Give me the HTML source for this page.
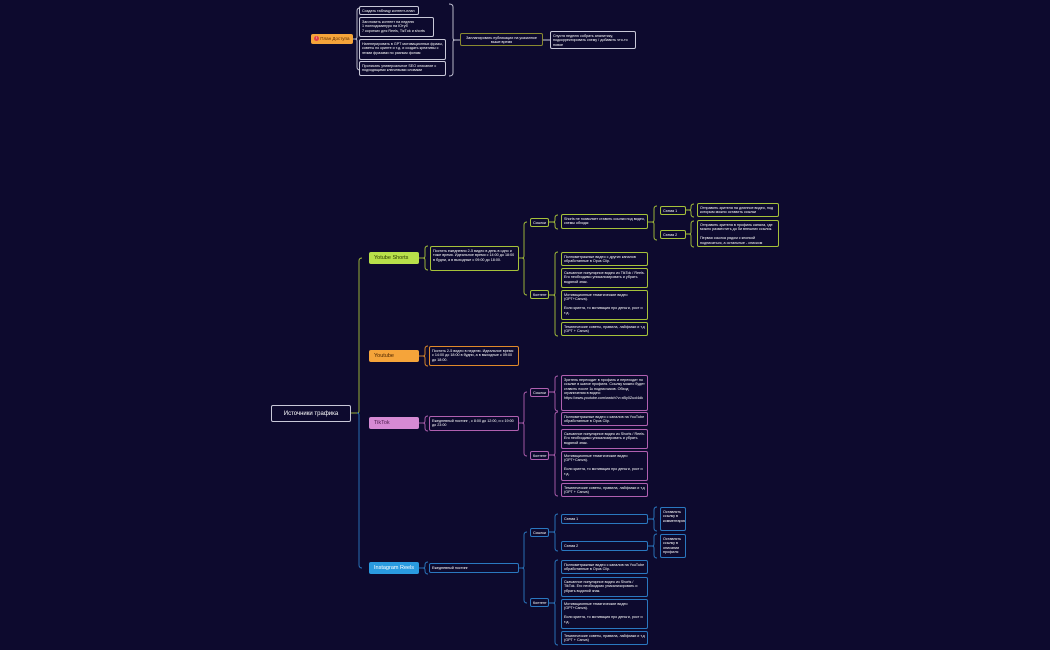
<!DOCTYPE html>
<html><head><meta charset="utf-8">
<style>
html,body{margin:0;padding:0;background:#0d0a2e;width:1050px;height:650px;overflow:hidden}
body{position:relative;font-family:"Liberation Sans","Noto Sans CJK SC",sans-serif}
.b{position:absolute;box-sizing:border-box;border:1px solid #ccc;border-radius:2px;background:#0d0a2e;color:#fff;font-size:3.7px;line-height:4.6px;padding:1.5px 2px;overflow:hidden}
.n{position:absolute;box-sizing:border-box;border-radius:2px;font-size:5.5px;line-height:12px;padding-left:5px}
.g{border-color:#a6c23a}.o{border-color:#e08a2a}.p{border-color:#b060b0}.u{border-color:#2a78c0}.w{border-color:#c8c8d8}
svg{position:absolute;left:0;top:0}
</style></head><body>
<svg width="1050" height="650" fill="none" stroke-width="0.9">
<g stroke="#a6c23a">
<path d="M351 413 L357 413"/>
<path d="M362 258 Q359 258 359 261 L359 411 Q359 413 357 413"/>
<path d="M419 258 L423 258"/>
<path d="M428 246 Q425 246 425 249 L425 256 Q425 258 423 258 Q425 258 425 260 L425 267 Q425 270 428 270"/>
<path d="M519 258 L522 258"/>
<path d="M527 222 Q524 222 524 225 L524 256 Q524 258 522 258 Q524 258 524 260 L524 292 Q524 295 527 295"/>
<path d="M558 215 Q555 215 555 218 L555 220 Q555 222 553 222 Q555 222 555 224 L555 226 Q555 229 558 229"/>
<path d="M549 222 L553 222 M549 295 L553 295"/>
<path d="M558 252 Q555 252 555 255 L555 293 Q555 295 553 295 Q555 295 555 297 L555 333 Q555 336 558 336"/>
<path d="M648 222 L652 222"/>
<path d="M657 206 Q654 206 654 209 L654 220 Q654 222 652 222 Q654 222 654 224 L654 237 Q654 240 657 240"/>
<path d="M686 210 L689 210 M686 234 L689 234"/>
<path d="M694 204 Q691 204 691 207 L691 208 Q691 210 689 210 Q691 210 691 212 L691 214 Q691 217 694 217"/>
<path d="M694 221 Q691 221 691 224 L691 232 Q691 234 689 234 Q691 234 691 236 L691 244 Q691 247 694 247"/>
</g>
<g stroke="#e08a2a">
<path d="M419 356 L423 356"/>
<path d="M428 346 Q425 346 425 349 L425 354 Q425 356 423 356 Q425 356 425 358 L425 363 Q425 366 428 366"/>
</g>
<g stroke="#b060b0">
<path d="M419 423 L423 423"/>
<path d="M428 416 Q425 416 425 419 L425 421 Q425 423 423 423 Q425 423 425 425 L425 428 Q425 431 428 431"/>
<path d="M519 423 L522 423"/>
<path d="M527 392 Q524 392 524 395 L524 421 Q524 423 522 423 Q524 423 524 425 L524 453 Q524 456 527 456"/>
<path d="M549 392 L553 392 M549 455 L553 455"/>
<path d="M558 376 Q555 376 555 379 L555 390 Q555 392 553 392 Q555 392 555 394 L555 408 Q555 411 558 411"/>
<path d="M558 412 Q555 412 555 415 L555 453 Q555 455 553 455 Q555 455 555 457 L555 493 Q555 496 558 496"/>
</g>
<g stroke="#2a78c0">
<path d="M357 413 Q359 413 359 415 L359 565 Q359 568 362 568"/>
<path d="M419 568 L423 568"/>
<path d="M428 562 Q425 562 425 565 L425 566 Q425 568 423 568 Q425 568 425 570 L425 571 Q425 574 428 574"/>
<path d="M519 568 L522 568"/>
<path d="M527 532 Q524 532 524 535 L524 566 Q524 568 522 568 Q524 568 524 570 L524 600 Q524 603 527 603"/>
<path d="M549 532 L553 532 M549 603 L553 603"/>
<path d="M558 514 Q555 514 555 517 L555 530 Q555 532 553 532 Q555 532 555 534 L555 548 Q555 551 558 551"/>
<path d="M558 560 Q555 560 555 563 L555 601 Q555 603 553 603 Q555 603 555 605 L555 642 Q555 645 558 645"/>
<path d="M648 519 L652 519 M648 546 L652 546"/>
<path d="M657 507 Q654 507 654 510 L654 517 Q654 519 652 519 Q654 519 654 521 L654 528 Q654 531 657 531"/>
<path d="M657 534 Q654 534 654 537 L654 544 Q654 546 652 546 Q654 546 654 548 L654 555 Q654 558 657 558"/>
</g>
<g stroke="#c8c8d8">
<path d="M353 39 L355 39"/>
<path d="M360 8 Q357 8 357 11 L357 37 Q357 39 355 39 Q357 39 357 41 L357 67 Q357 70 360 70"/>
<path d="M449 4 Q453 4 453 7 L453 38 Q453 40 455 40 Q453 40 453 42 L453 73 Q453 76 449 76"/>
<path d="M455 40 L460 40 M543 40 L550 40"/>
</g>
</svg>

<div class="n" style="left:311px;top:34px;width:42px;height:10px;line-height:10px;background:#f5a43a;color:#5a2a00;font-size:4.5px;padding-left:3px"><span style="display:inline-block;width:5px;height:5px;border-radius:50%;background:#e0404a;color:#fff;font-size:3.5px;line-height:5px;text-align:center;vertical-align:middle">!</span> План Доступа</div>
<div class="b w" style="left:359px;top:6px;width:60px;height:9px">Создать таблицу контент-план</div>
<div class="b w" style="left:359px;top:17px;width:75px;height:20px">Заготовить контент на неделю<br>1 полнодоминуро на IOтуб<br>7 коротких для Reels, ТікТok и shorts</div>
<div class="b w" style="left:359px;top:39px;width:87px;height:21px">Нагенерировать в GPT мотивационных фразы, советы по крипте и т.д. и создать креативы с этими фразами по разным фонам</div>
<div class="b w" style="left:359px;top:61px;width:87px;height:15px">Прописать универсальное SEO описание с подходящими ключевыми словами</div>
<div class="b" style="left:460px;top:33px;width:83px;height:13px;border-color:#8a8a30;text-align:center">Запланировать публикации на указанное выше время</div>
<div class="b w" style="left:550px;top:31px;width:86px;height:18px">Спустя неделю собрать аналитику, подкорректировать схему / добавить что-то новое</div>

<div class="b w" style="left:271px;top:405px;width:80px;height:17px;font-size:6px;line-height:13px;text-align:center;border-width:1.3px">Источники трафика</div>

<div class="n" style="left:369px;top:252px;width:50px;height:12px;background:#b8e04a;color:#2a3a00">Yotube Shorts</div>
<div class="n" style="left:369px;top:350px;width:50px;height:12px;background:#f5a43a;color:#4a2400">Youtube</div>
<div class="n" style="left:369px;top:417px;width:50px;height:12px;background:#d68ad4;color:#4a1a4a">TikTok</div>
<div class="n" style="left:369px;top:562px;width:50px;height:12px;background:#2a9be0;color:#fff">Instagram Reels</div>

<div class="b g" style="left:430px;top:246px;width:89px;height:25px">Постить ежедневно 2-5 видео в день в одно и тоже время. Идеальное время с 14:00 до 18:00 в будни, а в выходные с 09:00 до 18:00.</div>
<div class="b g" style="left:530px;top:218px;width:19px;height:9px">Ссылки</div>
<div class="b g" style="left:530px;top:290px;width:19px;height:9px">Контент</div>
<div class="b g" style="left:561px;top:214px;width:87px;height:15px">Shorts не позволяет ставить ссылки под видео, схемы обхода:</div>
<div class="b g" style="left:561px;top:252px;width:87px;height:14px">Полнометражные видео с других каналов обработанные в Opus Clip.</div>
<div class="b g" style="left:561px;top:268px;width:87px;height:20px">Скачанное популярное видео из TikTok / Reels. Его необходимо уникализировать и убрать водяной знак.</div>
<div class="b g" style="left:561px;top:290px;width:87px;height:30px">Мотивационные тематические видео (GPT+Canva).<br><br>Если крипта, то мотивация про деньги, рост и т.д.</div>
<div class="b g" style="left:561px;top:322px;width:87px;height:14px">Тематические советы, правила, лайфхаки и т.д (GPT + Canva)</div>
<div class="b g" style="left:660px;top:206px;width:26px;height:9px">Схема 1</div>
<div class="b g" style="left:660px;top:230px;width:26px;height:9px">Схема 2</div>
<div class="b g" style="left:697px;top:203px;width:82px;height:14px">Отправить зрителя на длинное видео, под которым можно оставить ссылки</div>
<div class="b g" style="left:697px;top:220px;width:82px;height:27px">Отправить зрителя в профиль канала, где можно разместить до 5и внешних ссылок.<br><br>Первая ссылка рядом с кнопкой подписаться, а остальные - списком</div>

<div class="b o" style="left:429px;top:346px;width:90px;height:20px">Постить 2-5 видео в неделю. Идеальное время с 14:00 до 18:00 в будни, а в выходные с 09:00 до 18:00.</div>

<div class="b p" style="left:429px;top:416px;width:90px;height:15px">Ежедневный постинг , с 8:00 до 12:00, и с 19:00 до 23:00</div>
<div class="b p" style="left:530px;top:388px;width:19px;height:9px">Ссылки</div>
<div class="b p" style="left:530px;top:451px;width:19px;height:9px">Контент</div>
<div class="b p" style="left:561px;top:375px;width:87px;height:36px">Зритель переходит в профиль и переходит по ссылке в шапке профиля. Ссылку можно будет ставить после 1к подписчиков. Обход ограничения в видео: https://www.youtube.com/watch?v=xBy0Zuol4dk</div>
<div class="b p" style="left:561px;top:412px;width:87px;height:14px">Полнометражные видео с каналов на YouTube обработанные в Opus Clip.</div>
<div class="b p" style="left:561px;top:429px;width:87px;height:20px">Скачанное популярное видео из Shorts / Reels. Его необходимо уникализировать и убрать водяной знак.</div>
<div class="b p" style="left:561px;top:451px;width:87px;height:30px">Мотивационные тематические видео (GPT+Canva).<br><br>Если крипта, то мотивация про деньги, рост и т.д.</div>
<div class="b p" style="left:561px;top:483px;width:87px;height:14px">Тематические советы, правила, лайфхаки и т.д (GPT + Canva)</div>

<div class="b u" style="left:429px;top:563px;width:90px;height:10px">Ежедневный постинг</div>
<div class="b u" style="left:530px;top:528px;width:19px;height:9px">Ссылки</div>
<div class="b u" style="left:530px;top:598px;width:19px;height:9px">Контент</div>
<div class="b u" style="left:561px;top:514px;width:87px;height:10px">Схема 1</div>
<div class="b u" style="left:561px;top:541px;width:87px;height:10px">Схема 2</div>
<div class="b u" style="left:660px;top:507px;width:26px;height:24px">Оставлять ссылку в комментариях</div>
<div class="b u" style="left:660px;top:534px;width:26px;height:24px">Оставлять ссылку в описании профиля</div>
<div class="b u" style="left:561px;top:560px;width:87px;height:14px">Полнометражные видео с каналов на YouTube обработанные в Opus Clip.</div>
<div class="b u" style="left:561px;top:577px;width:87px;height:20px">Скачанное популярное видео из Shorts / TikTok. Его необходимо уникализировать и убрать водяной знак.</div>
<div class="b u" style="left:561px;top:599px;width:87px;height:30px">Мотивационные тематические видео (GPT+Canva).<br><br>Если крипта, то мотивация про деньги, рост и т.д.</div>
<div class="b u" style="left:561px;top:631px;width:87px;height:14px">Тематические советы, правила, лайфхаки и т.д (GPT + Canva)</div>
</body></html>
